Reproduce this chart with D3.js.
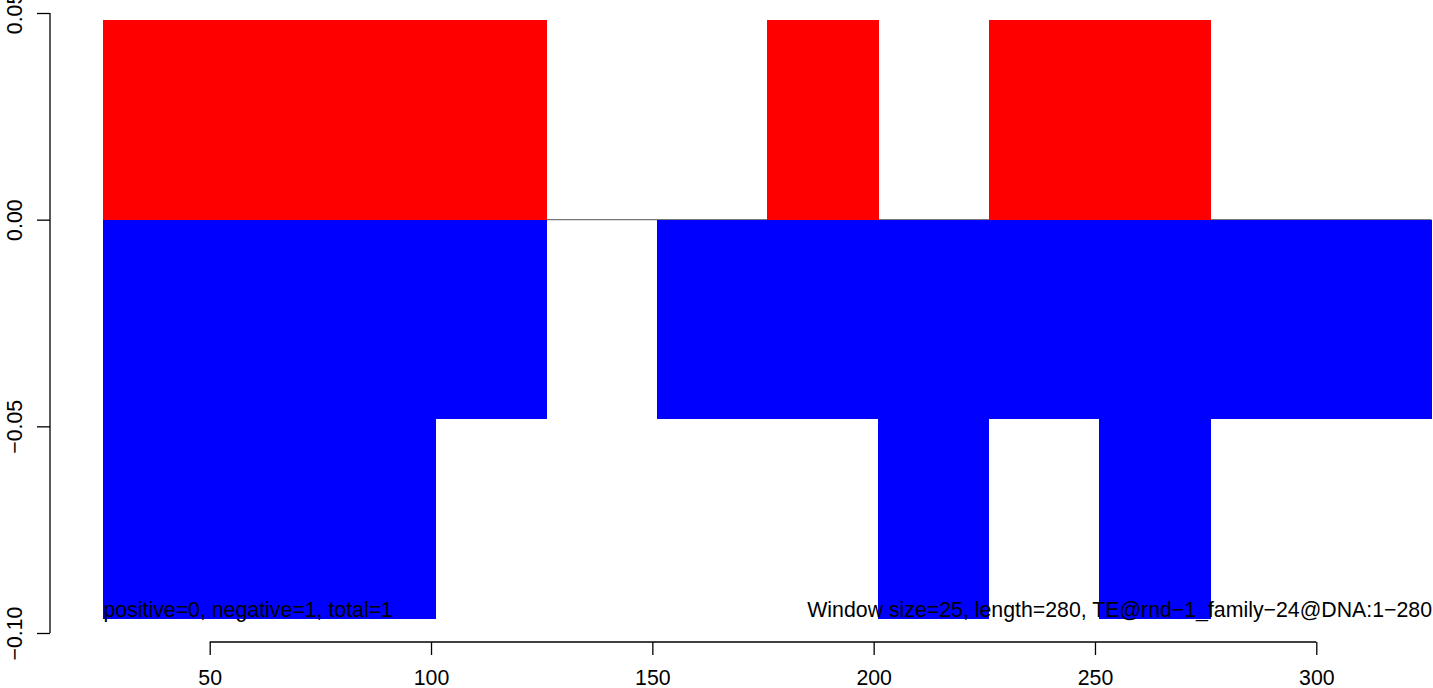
<!DOCTYPE html>
<html>
<head>
<meta charset="utf-8">
<script src="https://cdn.jsdelivr.net/npm/d3@7"></script>
<style>
  html, body { margin: 0; padding: 0; background: #fff; }
  svg { display: block; }
  text { font-family: "Liberation Sans", Arial, Helvetica, sans-serif; fill: #000; }
</style>
</head>
<body>
<svg id="chart" width="1433" height="688"></svg>
<script>
// ---- data ----
const windowStart = [26, 51, 76, 101, 126, 151, 176, 201, 226, 251, 276, 301];
const windowSize = 25;
const positiveValues = [0.0483, 0.0483, 0.0483, 0.0483, 0, 0, 0.0483, 0, 0.0483, 0.0483, 0, 0];
const negativeValues = [-0.0966, -0.0966, -0.0966, -0.0483, 0, -0.0483, -0.0483, -0.0966, -0.0483, -0.0966, -0.0483, -0.0483];
const xTicks = [50, 100, 150, 200, 250, 300];
const yTicks = [-0.10, -0.05, 0.00, 0.05];
const yTickLabels = ["\u22120.10", "\u22120.05", "0.00", "0.05"];
const leftNote = "positive=0, negative=1, total=1";
const rightNote = "Window size=25, length=280, TE@rnd\u22121_family\u221224@DNA:1\u2212280";

// ---- scales ----
const W = 1433, H = 688;
const x = d3.scaleLinear().domain([50, 300]).range([209.7, 1316.3]);
const y = d3.scaleLinear().domain([-0.10, 0.05]).range([633, 13]);
const fontSize = 21.3;

const svg = d3.select("#chart");
const plot = svg.append("g");

// zero line (under the bars)
plot.append("line")
  .attr("x1", x(windowStart[0]))
  .attr("x2", x(windowStart[windowStart.length - 1] + windowSize))
  .attr("y1", y(0)).attr("y2", y(0))
  .attr("stroke", "#777").attr("stroke-width", 1.3);

const bars = windowStart.map((s, i) => ({ s, pos: positiveValues[i], neg: negativeValues[i] }));

plot.selectAll("rect.pos").data(bars.filter(d => d.pos > 0)).join("rect")
  .attr("class", "pos")
  .attr("shape-rendering", "crispEdges")
  .attr("x", d => x(d.s))
  .attr("width", d => x(d.s + windowSize) - x(d.s) + 0.5)
  .attr("y", d => y(d.pos))
  .attr("height", d => y(0) - y(d.pos))
  .attr("fill", "#ff0000");

plot.selectAll("rect.neg").data(bars.filter(d => d.neg < 0)).join("rect")
  .attr("class", "neg")
  .attr("shape-rendering", "crispEdges")
  .attr("x", d => x(d.s))
  .attr("width", d => x(d.s + windowSize) - x(d.s) + 0.5)
  .attr("y", d => y(0))
  .attr("height", d => y(d.neg) - y(0))
  .attr("fill", "#0000ff");

// ---- y axis ----
const yAxisX = 50;
const yAxis = d3.axisLeft(y).tickValues(yTicks).tickSize(13).tickFormat((d, i) => yTickLabels[i]);
const yg = svg.append("g").attr("transform", `translate(${yAxisX},0)`).call(yAxis);
yg.select(".domain").attr("d", `M0,${y(0.05)}V${y(-0.10)}`).attr("stroke", "#000").attr("stroke-width", 1.3);
yg.selectAll(".tick line").attr("stroke", "#000").attr("stroke-width", 1.3);
yg.selectAll(".tick text")
  .attr("x", null).attr("dy", null)
  .attr("transform", `translate(${22 - yAxisX},0) rotate(-90)`)
  .attr("text-anchor", "middle")
  .style("font-size", fontSize + "px")
  .style("font-family", "'Liberation Sans', Arial, sans-serif");

// ---- x axis ----
const xAxisY = 642;
const xAxis = d3.axisBottom(x).tickValues(xTicks).tickSize(13).tickFormat(d3.format("d"));
const xg = svg.append("g").attr("transform", `translate(0,${xAxisY})`).call(xAxis);
xg.select(".domain").attr("d", `M${x(50)},0H${x(300)}`).attr("stroke", "#000").attr("stroke-width", 1.3);
xg.selectAll(".tick line").attr("stroke", "#000").attr("stroke-width", 1.3);
xg.selectAll(".tick text")
  .attr("y", 685 - xAxisY).attr("dy", null)
  .style("font-size", fontSize + "px")
  .style("font-family", "'Liberation Sans', Arial, sans-serif");
xg.attr("font-size", null).attr("font-family", null);
yg.attr("font-size", null).attr("font-family", null);

// ---- notes ----
svg.append("text")
  .attr("x", x(windowStart[0]))
  .attr("y", 617)
  .attr("text-anchor", "start")
  .style("font-size", fontSize + "px")
  .text(leftNote);

svg.append("text")
  .attr("x", 1432)
  .attr("y", 617)
  .attr("text-anchor", "end")
  .style("font-size", fontSize + "px")
  .text(rightNote);
</script>
</body>
</html>
